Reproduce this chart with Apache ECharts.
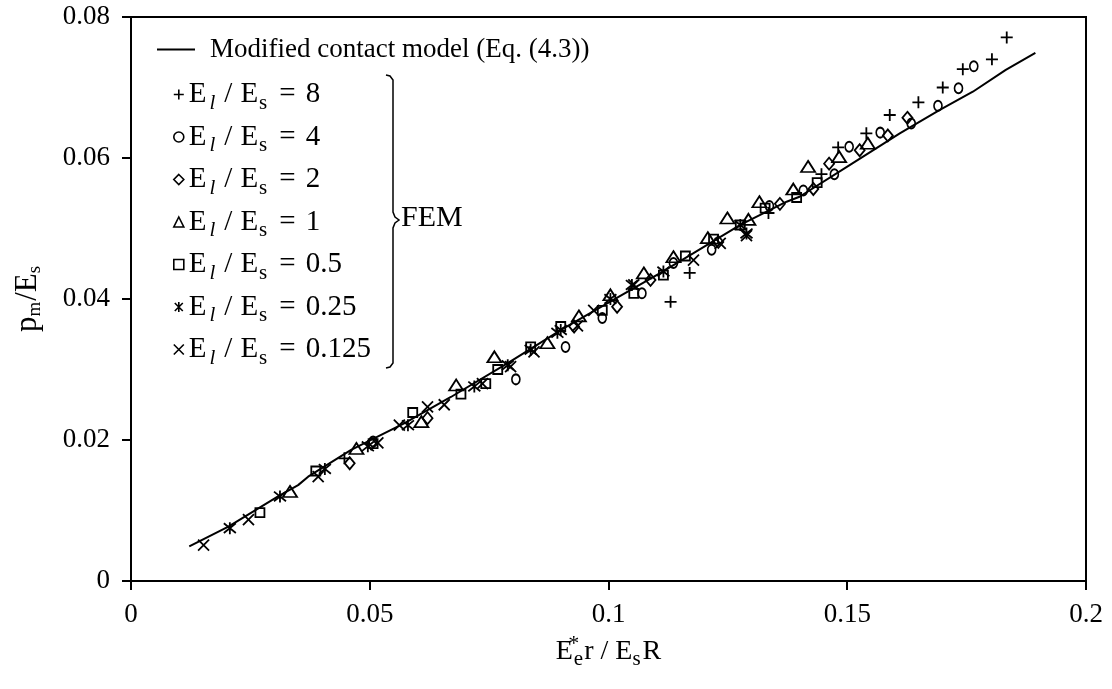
<!DOCTYPE html>
<html><head><meta charset="utf-8">
<script src="https://cdn.jsdelivr.net/npm/echarts@6/dist/echarts.min.js"></script>
<style>html,body{margin:0;padding:0;background:#fff}#c{width:1112px;height:689px}</style>
</head><body><div id="c"></div><script>
const xTicks = [0, 0.05, 0.1, 0.15, 0.2];
const yTicks = [0, 0.02, 0.04, 0.06, 0.08];
const curveName = 'Modified contact model (Eq. (4.3))';
const modelCurve = [[0.0122,0.0049],[0.0204,0.0077],[0.0308,0.0120],[0.0350,0.0136],[0.0371,0.0148],[0.0461,0.0186],[0.0573,0.0224],[0.0670,0.0261],[0.0789,0.0309],[0.0905,0.0358],[0.1011,0.0399],[0.1109,0.0437],[0.1178,0.0465],[0.1276,0.0505],[0.1373,0.0538],[0.1400,0.0545],[0.1505,0.0590],[0.1610,0.0635],[0.1693,0.0668],[0.1763,0.0694],[0.1832,0.0725],[0.1894,0.0749]];
const ratios = ['8','4','2','1','0.5','0.25','0.125'];
const fem8 = [[0.0447,0.0174],[0.1130,0.0396],[0.1170,0.0437],[0.1335,0.0522],[0.1446,0.0577],[0.1481,0.0615],[0.1540,0.0635],[0.1589,0.0661],[0.1649,0.0679],[0.1700,0.0700],[0.1742,0.0726],[0.1803,0.0740],[0.1834,0.0771]];
const fem4 = [[0.0507,0.0198],[0.0806,0.0286],[0.0910,0.0332],[0.0987,0.0373],[0.1070,0.0408],[0.1136,0.0451],[0.1216,0.0470],[0.1337,0.0532],[0.1408,0.0554],[0.1473,0.0577],[0.1504,0.0616],[0.1569,0.0636],[0.1634,0.0649],[0.1690,0.0674],[0.1733,0.0699],[0.1765,0.0730]];
const fem2 = [[0.0458,0.0167],[0.0503,0.0195],[0.0621,0.0231],[0.0928,0.0361],[0.1018,0.0389],[0.1088,0.0427],[0.1230,0.0481],[0.1359,0.0535],[0.1429,0.0556],[0.1462,0.0592],[0.1526,0.0611],[0.1585,0.0632],[0.1626,0.0657]];
const fem1 = [[0.0333,0.0127],[0.0472,0.0188],[0.0608,0.0226],[0.0681,0.0278],[0.0761,0.0318],[0.0872,0.0338],[0.0938,0.0376],[0.1004,0.0406],[0.1074,0.0437],[0.1136,0.0460],[0.1208,0.0487],[0.1249,0.0515],[0.1293,0.0513],[0.1316,0.0538],[0.1387,0.0556],[0.1418,0.0588],[0.1483,0.0602],[0.1543,0.0621]];
const fem05 = [[0.0270,0.0097],[0.0387,0.0156],[0.0507,0.0195],[0.0590,0.0239],[0.0691,0.0265],[0.0743,0.0280],[0.0768,0.0300],[0.0837,0.0332],[0.0900,0.0361],[0.0987,0.0384],[0.1053,0.0408],[0.1115,0.0434],[0.1161,0.0461],[0.1220,0.0485],[0.1276,0.0505],[0.1328,0.0529],[0.1394,0.0544],[0.1437,0.0565]];
const fem025 = [[0.0207,0.0075],[0.0312,0.0120],[0.0406,0.0159],[0.0496,0.0191],[0.0580,0.0221],[0.0719,0.0276],[0.0789,0.0306],[0.0837,0.0328],[0.0893,0.0352],[0.0900,0.0356],[0.1004,0.0400],[0.1049,0.0420],[0.1115,0.0439],[0.1276,0.0505],[0.1289,0.0493]];
const fem0125 = [[0.0152,0.0051],[0.0246,0.0087],[0.0392,0.0148],[0.0517,0.0196],[0.0562,0.0221],[0.0621,0.0247],[0.0656,0.0250],[0.0736,0.0280],[0.0795,0.0304],[0.0844,0.0325],[0.0935,0.0362],[0.0969,0.0384],[0.1053,0.0420],[0.1178,0.0455],[0.1234,0.0479],[0.1289,0.0490]];

const femData = [fem8, fem4, fem2, fem1, fem05, fem025, fem0125];
const symbols = [
  'path://M0,5L10,5M5,0L5,10',
  'circle',
  'diamond',
  'triangle',
  'rect',
  'path://M1,1L9,9M9,1L1,9M5,0L5,10',
  'path://M0,0L10,10M10,0L0,10'
];
const sizes = [12, [8,10], [10,12], [14,11], 9, 12, 11];
const FONT = 'Liberation Serif';
const names = ratios.map(r => 'El/Es = ' + r);

const chart = echarts.init(document.getElementById('c'), null, {renderer: 'canvas'});
const series = [{
  name: curveName, type: 'line', data: modelCurve, showSymbol: false, symbol: 'none',
  lineStyle: {color: '#000', width: 2}, itemStyle: {color: '#000'}, z: 3, animation: false
}];
names.forEach((n, i) => {
  series.push({
    name: n, type: 'scatter', data: femData[i], symbol: symbols[i], symbolSize: sizes[i],
    itemStyle: {color: 'rgba(0,0,0,0)', borderColor: '#000', borderWidth: 1.8, opacity: 1},
    z: 2, animation: false
  });
});
const subRich = {
  e: {fontFamily: FONT, fontSize: 29, color: '#000'},
  l: {fontFamily: FONT, fontSize: 21, fontStyle: 'italic', color: '#000', padding: [17, 9, 0, 3]},
  sl: {fontFamily: FONT, fontSize: 29, color: '#000', padding: [0, 8, 0, 0]},
  s: {fontFamily: FONT, fontSize: 21, color: '#000', padding: [17, 12, 0, 1]},
  eq: {fontFamily: FONT, fontSize: 29, color: '#000', padding: [0, 10, 0, 0]},
  v: {fontFamily: FONT, fontSize: 29, color: '#000'}
};
chart.setOption({
  backgroundColor: '#fff',
  animation: false,
  grid: {left: 131, right: 26, top: 17, bottom: 108, show: true, borderColor: '#000', borderWidth: 2},
  xAxis: {
    type: 'value', min: xTicks[0], max: xTicks[xTicks.length - 1], interval: xTicks[1] - xTicks[0],
    splitLine: {show: false},
    axisLine: {lineStyle: {color: '#000', width: 2}},
    axisTick: {inside: false, length: 9, lineStyle: {color: '#000', width: 2}},
    axisLabel: {color: '#000', fontFamily: FONT, fontSize: 27, margin: 20},
    name: '{a|E}{sup|*}{sub|e}{a|r / E}{sub2|s}{a|R}', nameLocation: 'middle', nameGap: 52,
    nameTextStyle: {rich: {
      a: {fontFamily: FONT, fontSize: 28, color: '#000'},
      sup: {fontFamily: FONT, fontSize: 22, color: '#000', width: 0, padding: [0, 0, 14, 1]},
      sub: {fontFamily: FONT, fontSize: 21, color: '#000', padding: [16, 1, 0, 0]},
      sub2: {fontFamily: FONT, fontSize: 21, color: '#000', padding: [16, 2, 0, 0]}
    }}
  },
  yAxis: {
    type: 'value', min: yTicks[0], max: yTicks[yTicks.length - 1], interval: yTicks[1] - yTicks[0],
    splitLine: {show: false},
    axisLine: {lineStyle: {color: '#000', width: 2}},
    axisTick: {inside: false, length: 9, lineStyle: {color: '#000', width: 2}},
    axisLabel: {color: '#000', fontFamily: FONT, fontSize: 27, margin: 21},
    name: '{a|p}{sub|m}{a|/E}{sub2|s}', nameLocation: 'middle', nameGap: 86, nameRotate: 90,
    nameTextStyle: {rich: {
      a: {fontFamily: FONT, fontSize: 31, color: '#000'},
      sub: {fontFamily: FONT, fontSize: 19, color: '#000', padding: [15, 1, 0, 0]},
      sub2: {fontFamily: FONT, fontSize: 19, color: '#000', padding: [15, 0, 0, 0]}
    }}
  },
  legend: [{
    data: [curveName], left: 152, top: 31, itemWidth: 38, itemHeight: 2, icon: 'rect',
    formatter: n => '{t|' + n + '}',
    textStyle: {rich: {t: {fontFamily: FONT, fontSize: 27, color: '#000', padding: [0, 0, 0, 10]}}}
  }, {
    data: names, orient: 'vertical', left: 168, top: 75, itemWidth: 10, itemHeight: 10, itemGap: 9,
    itemStyle: {borderWidth: 1.6},
    formatter: n => '{e|E}{l|l}{sl|/}{e|E}{s|s}{eq|=}{v|' + n.split('= ')[1] + '}',
    textStyle: {rich: subRich}
  }],
  graphic: [{
    type: 'polyline', silent: true,
    shape: {points: [[386,75],[390,76],[393,80],[393,212],[395,217],[399,220],[395,223],[393,228],[393,363],[390,367],[386,368]]},
    style: {fill: 'none', stroke: '#000', lineWidth: 1.5}
  }, {
    type: 'text', left: 401, top: 203,
    style: {text: 'FEM', font: '30px "Liberation Serif"', fill: '#000'}
  }],
  series: series
});
</script></body></html>
